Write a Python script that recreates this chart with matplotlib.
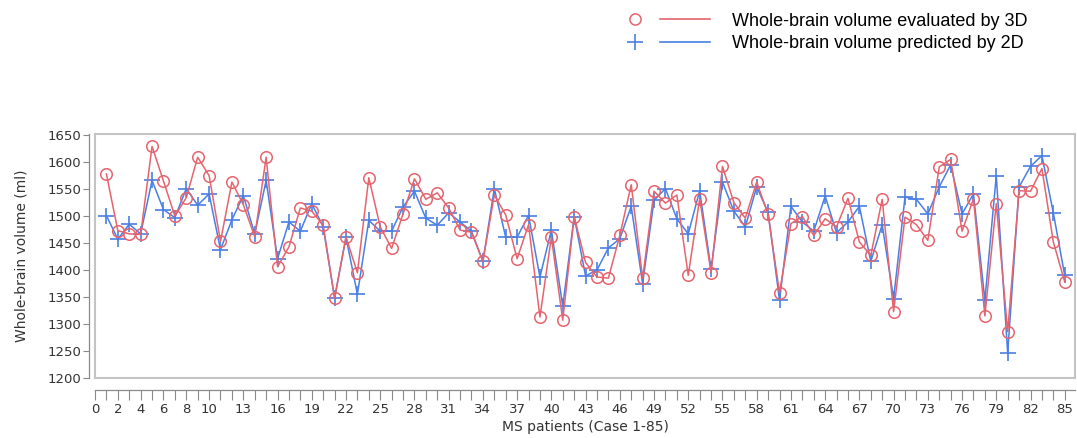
import matplotlib
matplotlib.use("Agg")
import matplotlib.pyplot as plt
from matplotlib.lines import Line2D
from matplotlib.legend_handler import HandlerTuple
import numpy as np

cases = list(range(1, 86))
vol_3d = [1578, 1473, 1467, 1466, 1629, 1565, 1500, 1534, 1609, 1575,
          1453, 1563, 1521, 1462, 1609, 1406, 1443, 1515, 1509, 1483,
          1348, 1461, 1395, 1571, 1480, 1440, 1504, 1569, 1531, 1543,
          1515, 1474, 1470, 1416, 1539, 1502, 1421, 1484, 1313, 1461,
          1307, 1499, 1414, 1387, 1385, 1464, 1558, 1385, 1546, 1524,
          1539, 1390, 1532, 1395, 1592, 1525, 1496, 1563, 1503, 1358,
          1486, 1499, 1464, 1495, 1480, 1533, 1452, 1427, 1531, 1323,
          1498, 1484, 1455, 1591, 1605, 1472, 1532, 1315, 1523, 1286,
          1547, 1546, 1588, 1452, 1378]
vol_2d = [1501, 1457, 1485, 1467, 1566, 1512, 1497, 1551, 1520, 1541,
          1438, 1493, 1538, 1467, 1566, 1421, 1489, 1472, 1523, 1480,
          1348, 1461, 1355, 1492, 1472, 1472, 1517, 1546, 1496, 1483,
          1506, 1489, 1472, 1416, 1551, 1461, 1461, 1501, 1387, 1474,
          1333, 1499, 1389, 1400, 1441, 1458, 1518, 1375, 1529, 1551,
          1495, 1467, 1547, 1401, 1563, 1509, 1480, 1554, 1507, 1344,
          1518, 1489, 1472, 1537, 1469, 1489, 1518, 1416, 1484, 1347,
          1535, 1531, 1504, 1554, 1595, 1504, 1541, 1344, 1575, 1246,
          1554, 1592, 1612, 1506, 1390]
x_tick_labels = [0, 2, 4, 6, 8, 10] + list(range(13, 86, 3))
y_ticks = list(range(1200, 1651, 50))

red = "#e5646e"
blue = "#4a7fe3"
frame_c = "#c4c4c4"
axis_c = "#8a8a8a"
text_c = "#333333"

fig = plt.figure(figsize=(10.77, 4.38), dpi=100)
ax = fig.add_axes([95 / 1077, 1 - 378 / 438, 980 / 1077, 244 / 438])

ax.plot(cases, vol_3d, color=red, lw=1.1, marker="o", ms=8.3,
        mfc="none", mec=red, mew=1.1, zorder=3)
ax.plot(cases, vol_2d, color=blue, lw=1.1, marker="+", ms=12,
        mec=blue, mew=1.2, zorder=2)

ax.set_xlim(0, 85.9)
ax.set_ylim(1200, 1652)
for s in ax.spines.values():
    s.set_color(frame_c)
    s.set_linewidth(1.5)
ax.set_xticks([])
ax.set_yticks([])

# x ruler
secx = ax.secondary_xaxis(-0.05)
secx.spines["bottom"].set_color(axis_c)
secx.spines["bottom"].set_linewidth(0.9)
secx.set_xticks(x_tick_labels)
secx.set_xticklabels([str(v) for v in x_tick_labels], fontsize=9.5,
                     color=text_c, family="DejaVu Sans")
secx.set_xticks(range(0, 86), minor=True)
secx.tick_params(axis="x", which="both", direction="out", length=7,
                 width=0.8, color=axis_c, pad=2)
secx.set_xlabel("MS patients (Case 1-85)", fontsize=10, color=text_c,
                labelpad=3)

# y ruler
secy = ax.secondary_yaxis(-0.006)
secy.spines["left"].set_color(axis_c)
secy.spines["left"].set_linewidth(0.9)
secy.set_yticks(y_ticks)
secy.set_yticklabels([str(v) for v in y_ticks], fontsize=9.5, color=text_c)
secy.tick_params(axis="y", direction="out", length=4, width=0.8,
                 color=axis_c, pad=1.5)
secy.set_ylabel("Whole-brain volume (ml)", fontsize=10, color=text_c,
                labelpad=14)

h3 = (Line2D([], [], ls="none", marker="o", ms=8, mfc="none", mec=red, mew=1.1),
      Line2D([], [], color=red, lw=1.2))
h2 = (Line2D([], [], ls="none", marker="+", ms=11, mec=blue, mew=1.2),
      Line2D([], [], color=blue, lw=1.2))
fig.legend([h3, h2],
           ["Whole-brain volume evaluated by 3D", "Whole-brain volume predicted by 2D"],
           handler_map={tuple: HandlerTuple(ndivide=None, pad=0.0)},
           loc="upper left", bbox_to_anchor=(598 / 1077, 1.0),
           frameon=False, prop={"family": "Liberation Sans", "size": 13},
           handlelength=5.5, handletextpad=1.2, labelspacing=0.3,
           borderaxespad=0.3)

fig.savefig("out.png", dpi=100)
